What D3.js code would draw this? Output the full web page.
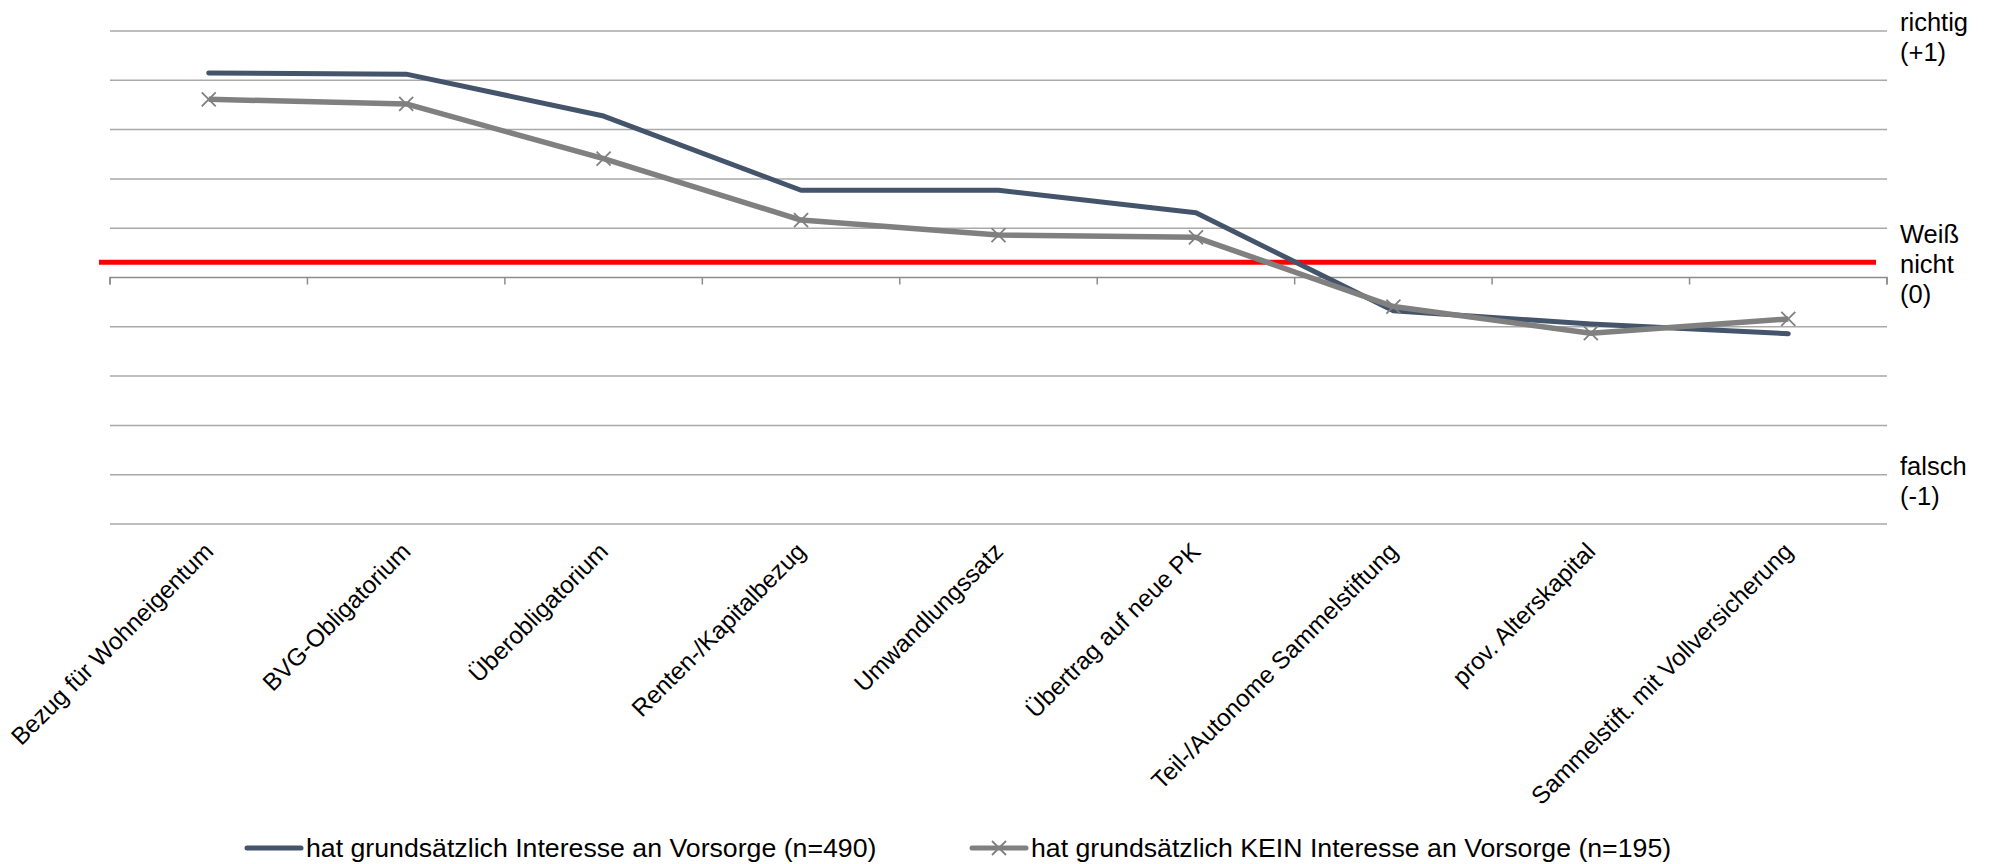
<!DOCTYPE html>
<html>
<head>
<meta charset="utf-8">
<script src="https://cdn.jsdelivr.net/npm/d3@7"></script>
<style>
  html, body { margin: 0; padding: 0; background: #fff; }
  svg { display: block; font-family: "Liberation Sans", Arial, sans-serif; }
</style>
</head>
<body>
<svg id="chart" width="1989" height="864"></svg>
<script>
// ---- data ----
const categories = [
  "Bezug für Wohneigentum",
  "BVG-Obligatorium",
  "Überobligatorium",
  "Renten-/Kapitalbezug",
  "Umwandlungssatz",
  "Übertrag auf neue PK",
  "Teil-/Autonome Sammelstiftung",
  "prov. Alterskapital",
  "Sammelstift. mit Vollversicherung"
];
const seriesInteresse = [0.83, 0.825, 0.655, 0.354, 0.354, 0.263, -0.135, -0.189, -0.228];
const seriesKeinInteresse = [0.723, 0.704, 0.482, 0.233, 0.172, 0.163, -0.118, -0.226, -0.168];
const seriesNames = [
  "hat grundsätzlich Interesse an Vorsorge (n=490)",
  "hat grundsätzlich KEIN Interesse an Vorsorge (n=195)"
];
const yTicks = [-1, -0.8, -0.6, -0.4, -0.2, 0, 0.2, 0.4, 0.6, 0.8, 1];
const referenceValue = 0.062;
const rightLabels = [
  { value: 1, lines: ["richtig", "(+1)"] },
  { value: 0, lines: ["Weiß", "nicht", "(0)"] },
  { value: -1, lines: ["falsch", "(-1)"] }
];

(function () {
// ---- layout ----
const svg = d3.select("#chart");
const pLeft = 110, pRight = 1887, pTop = 31, pBottom = 524;
const blue = "#44546A", gray = "#808080";

const x = d3.scaleBand().domain(categories).range([pLeft, pRight]).paddingInner(0).paddingOuter(0);
const xc = d => x(d) + x.bandwidth() / 2;
const y = d3.scaleLinear().domain([-1, 1]).range([pBottom, pTop]);

// gridlines
svg.append("g").selectAll("line").data(yTicks.filter(t => t !== 0)).join("line")
  .attr("x1", pLeft).attr("x2", pRight)
  .attr("y1", d => y(d)).attr("y2", d => y(d))
  .attr("stroke", "#A9A9A9").attr("stroke-width", 1.5);

// x axis at 0
const xAxis = d3.axisBottom(x).tickSize(7).tickFormat("");
const gx = svg.append("g").attr("transform", `translate(0,${y(0)})`).call(xAxis);
gx.select(".domain").attr("stroke", "#8C8C8C").attr("stroke-width", 1.5)
  .attr("d", `M${pLeft},7V0H${pRight}V7`);
gx.selectAll(".tick").remove();
const bounds = categories.map(c => x(c)).concat([pRight]);
gx.selectAll("line.bt").data(bounds).join("line").attr("class", "bt")
  .attr("x1", d => d).attr("x2", d => d).attr("y1", 0).attr("y2", 7)
  .attr("stroke", "#8C8C8C").attr("stroke-width", 1.5);

// category labels
svg.append("g").selectAll("text").data(categories).join("text")
  .attr("transform", d => `translate(${xc(d) + 6},${pBottom + 29}) rotate(-45)`)
  .attr("text-anchor", "end")
  .attr("font-size", 24.3)
  .attr("fill", "#000")
  .text(d => d);

// reference line
svg.append("line")
  .attr("x1", pLeft - 11).attr("x2", pRight - 11)
  .attr("y1", y(referenceValue)).attr("y2", y(referenceValue))
  .attr("stroke", "#FF0000").attr("stroke-width", 5);

// series lines
const line = d3.line().x((d, i) => xc(categories[i])).y(d => y(d));
svg.append("path").datum(seriesInteresse)
  .attr("d", line).attr("fill", "none").attr("stroke", blue)
  .attr("stroke-width", 5).attr("stroke-linecap", "round").attr("stroke-linejoin", "round");
svg.append("path").datum(seriesKeinInteresse)
  .attr("d", line).attr("fill", "none").attr("stroke", gray)
  .attr("stroke-width", 5.5).attr("stroke-linejoin", "round");

// X markers
const mk = 7;
const crossPath = (cx, cy) => `M${cx - mk},${cy - mk}L${cx + mk},${cy + mk}M${cx - mk},${cy + mk}L${cx + mk},${cy - mk}`;
svg.append("g").selectAll("path").data(seriesKeinInteresse).join("path")
  .attr("d", (d, i) => crossPath(xc(categories[i]), y(d)))
  .attr("stroke", gray).attr("stroke-width", 1.8).attr("fill", "none");

// right labels (baseline offsets relative to their value lines)
const firstBaseline = { "1": 0, "0": -35, "-1": -49 };
const rl = svg.append("g");
rightLabels.forEach(lb => {
  const baseY0 = y(lb.value) + firstBaseline[String(lb.value)];
  lb.lines.forEach((t, i) => {
    rl.append("text")
      .attr("x", 1900)
      .attr("y", baseY0 + i * 30)
      .attr("font-size", 25.5)
      .attr("fill", "#000")
      .text(t);
  });
});

// legend
const legend = svg.append("g");
const legItems = [
  { name: seriesNames[0], color: blue, marker: false, x0: 247 },
  { name: seriesNames[1], color: gray, marker: true, x0: 972 }
];
const ly = 848;
legItems.forEach(it => {
  legend.append("line").attr("x1", it.x0).attr("x2", it.x0 + 54)
    .attr("y1", ly).attr("y2", ly).attr("stroke", it.color).attr("stroke-width", 5)
    .attr("stroke-linecap", "round");
  if (it.marker) {
    legend.append("path").attr("d", crossPath(it.x0 + 27, ly))
      .attr("stroke", it.color).attr("stroke-width", 1.8).attr("fill", "none");
  }
  legend.append("text").attr("x", it.x0 + 59).attr("y", ly + 9)
    .attr("font-size", 26.7).attr("fill", "#000").text(it.name);
});
})();
</script>
</body>
</html>
